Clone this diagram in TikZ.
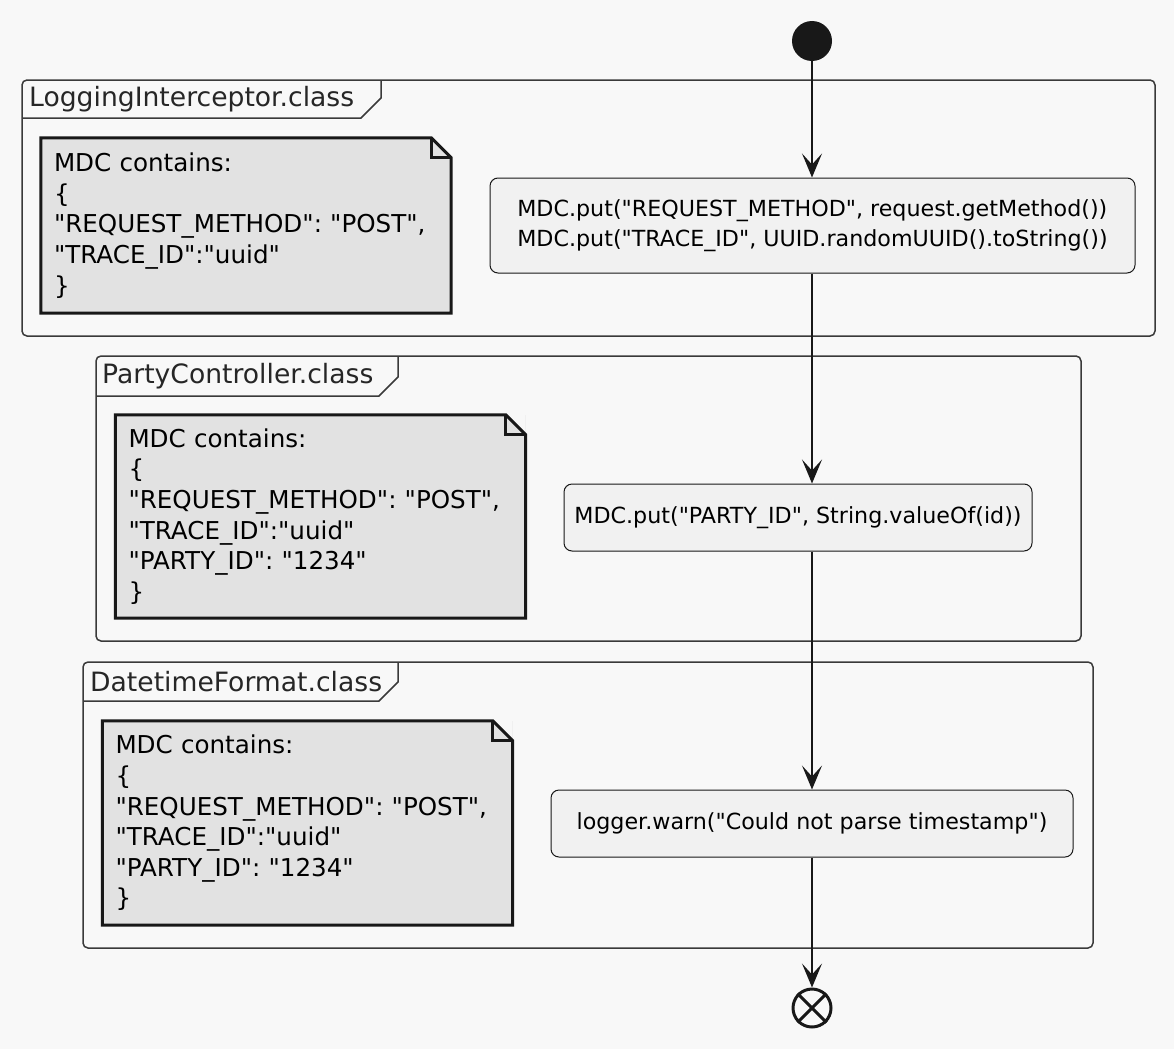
\documentclass[tikz,border=0pt]{standalone}
\usepackage{fontspec}
\setmainfont{DejaVu Sans}[Ligatures=TeXOff]
\usetikzlibrary{arrows.meta}
\definecolor{bgcol}{HTML}{F8F8F8}
\definecolor{linecol}{HTML}{181818}
\definecolor{framecol}{HTML}{3A3A3A}
\definecolor{boxcol}{HTML}{F1F1F1}
\definecolor{notecol}{HTML}{E2E2E2}
\tikzset{
  action/.style={draw=linecol, fill=boxcol, rounded corners=8pt, line width=1pt, inner sep=0pt,
    align=left, font=\fontsize{22.2}{30.5}\selectfont},
  memo/.style={fill=notecol, inner xsep=13pt, inner ysep=0pt, text width=384pt, align=left,
    font=\fontsize{24.6}{30.6}\selectfont},
  memoline/.style={draw=linecol, line width=3pt, line join=miter},
  frame/.style={draw=framecol, line width=1.5pt, rounded corners=5pt},
  tab/.style={draw=framecol, line width=1.5pt},
  title/.style={anchor=west, inner sep=0pt, font=\fontsize{26.6}{30}\selectfont, text=black!85},
  flow/.style={draw=linecol, line width=1.5pt, -{Stealth[length=24pt,width=20pt,inset=11pt]}},
}
\newcommand\memofold[1]{%
  \fill[bgcol] ([xshift=-20pt]#1.north east) -- (#1.north east) -- ([yshift=-20pt]#1.north east) -- cycle;
  \path[memoline] (#1.north west) -- ([xshift=-20pt]#1.north east) -- ([yshift=-20pt]#1.north east)
    -- (#1.south east) -- (#1.south west) -- cycle;
  \path[memoline] ([xshift=-20pt]#1.north east) |- ([yshift=-20pt]#1.north east);
}
\begin{document}
\frenchspacing
\begin{tikzpicture}[x=1pt,y=-1pt]
\fill[bgcol] (0,0) rectangle (1174,1049);
\useasboundingbox (0,0) rectangle (1174,1049);
% groups
\path[frame] (22,80) rectangle (1155,336);
\path[tab] (22,118) -- (361,118) -- (381,98) -- (381,80);
\node[title] (t1) at (29,99) {LoggingInterceptor.class};
\path[frame] (96,356) rectangle (1081,641);
\path[tab] (96,396) -- (379,396) -- (398,377) -- (398,356);
\node[title] (t2) at (102,376) {PartyController.class};
\path[frame] (83,662) rectangle (1093,948);
\path[tab] (83,701) -- (379,701) -- (398,682) -- (398,662);
\node[title] (t3) at (90,682) {DatetimeFormat.class};
% notes
\node[memo, minimum height=175pt] (n1) at (246,225.5) {MDC contains:\\\{\\"REQUEST\_METHOD": "POST",\\"TRACE\_ID":"uuid"\\\}};
\memofold{n1}
\node[memo, minimum height=203pt] (n2) at (320.5,516.5) {MDC contains:\\\{\\"REQUEST\_METHOD": "POST",\\"TRACE\_ID":"uuid"\\"PARTY\_ID": "1234"\\\}};
\memofold{n2}
\node[memo, minimum height=204pt] (n3) at (307.5,823) {MDC contains:\\\{\\"REQUEST\_METHOD": "POST",\\"TRACE\_ID":"uuid"\\"PARTY\_ID": "1234"\\\}};
\memofold{n3}
% flow
\node[circle, fill=linecol, minimum size=40pt, inner sep=0pt] (start) at (812,41) {};
\node[action, minimum width=645pt, minimum height=95pt] (a1) at (812.5,225.5) {MDC.put("REQUEST\_METHOD", request.getMethod())\\MDC.put("TRACE\_ID", UUID.randomUUID().toString())};
\node[action, minimum width=468pt, minimum height=67pt] (a2) at (798,517.5) {MDC.put("PARTY\_ID", String.valueOf(id))};
\node[action, minimum width=522pt, minimum height=67pt] (a3) at (812,823.5) {logger.warn("Could not parse timestamp")};
\node[circle, draw=linecol, line width=3pt, minimum size=38pt, inner sep=0pt] (stop) at (812,1008) {};
\path[draw=linecol, line width=3pt] (stop.45) -- (stop.225);
\path[draw=linecol, line width=3pt] (stop.135) -- (stop.315);
\path[flow] (start) -- (start |- a1.north);
\path[flow] (start |- a1.south) -- (start |- a2.north);
\path[flow] (start |- a2.south) -- (start |- a3.north);
\path[flow] (start |- a3.south) -- (stop);
\end{tikzpicture}
\end{document}
